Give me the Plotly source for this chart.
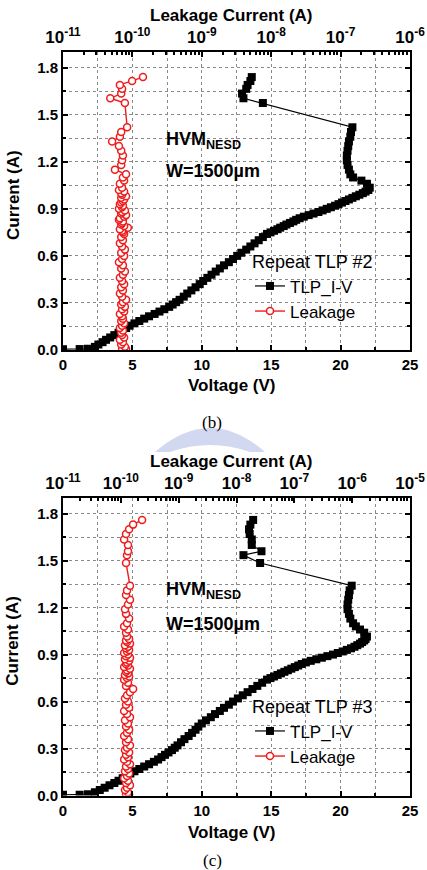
import plotly.graph_objects as go

W, H = 427, 870

# ---------------- (b) Repeat TLP #2 ----------------
current_b = [0.005, 0.006, 0.008, 0.02, 0.035, 0.05, 0.065, 0.08, 0.095, 0.11,
             0.125, 0.14, 0.155, 0.17, 0.185, 0.20, 0.215, 0.23, 0.245, 0.26,
             0.275, 0.29, 0.305, 0.32, 0.34, 0.36, 0.38, 0.40, 0.42, 0.44,
             0.46, 0.48, 0.50, 0.52, 0.54, 0.56, 0.58, 0.60, 0.62, 0.64,
             0.66, 0.68, 0.70, 0.72, 0.74,
             0.75, 0.76, 0.77, 0.78, 0.79, 0.80, 0.81, 0.82, 0.83, 0.84,
             0.85, 0.86, 0.87, 0.88, 0.89, 0.90, 0.91, 0.92, 0.93, 0.94,
             0.95, 0.96, 0.97, 0.98, 0.99, 1.00, 1.01, 1.02, 1.035,
             1.06, 1.08, 1.10, 1.12, 1.15, 1.18, 1.21, 1.24, 1.27, 1.30,
             1.33, 1.36, 1.39, 1.42,
             1.575, 1.605, 1.635, 1.665, 1.69, 1.715, 1.74]
voltage_b = [0.0, 1.2, 1.8, 2.3, 2.55, 2.85, 3.1, 3.4, 3.7, 4.0,
             4.25, 4.55, 4.8, 5.15, 5.5, 5.85, 6.2, 6.6, 6.95, 7.3,
             7.65, 7.9, 8.15, 8.4, 8.7, 8.95, 9.25, 9.55, 9.85, 10.1,
             10.4, 10.7, 11.0, 11.3, 11.6, 11.95, 12.25, 12.55, 12.85, 13.2,
             13.5, 13.8, 14.1, 14.4, 14.7,
             14.95, 15.2, 15.45, 15.65, 15.9, 16.1, 16.35, 16.6, 16.8, 17.05,
             17.35, 17.7, 18.05, 18.4, 18.7, 19.0, 19.3, 19.6, 19.85, 20.1,
             20.35, 20.6, 20.85, 21.1, 21.35, 21.6, 21.8, 22.0, 22.1,
             21.9, 21.5, 20.9, 20.7, 20.6, 20.5, 20.45, 20.45, 20.5, 20.55,
             20.6, 20.7, 20.75, 20.85,
             14.4, 13.0, 12.9, 13.2, 13.3, 13.5, 13.6]
leakage_b = [7.6e-11, 8.1e-11, 7.1e-11, 7.8e-11, 6.9e-11, 7.3e-11, 6.6e-11, 7.6e-11, 7.1e-11, 6.9e-11,
             7.3e-11, 6.6e-11, 7.1e-11, 7.6e-11, 6.9e-11, 7.3e-11, 7.1e-11, 6.6e-11, 7.6e-11, 7.1e-11,
             7.8e-11, 6.9e-11, 7.3e-11, 8.1e-11, 7.1e-11, 6.6e-11, 7.3e-11, 6.9e-11, 7.6e-11, 7.1e-11,
             6.6e-11, 7.3e-11, 7.8e-11, 6.9e-11, 7.3e-11, 6.4e-11, 7.1e-11, 7.6e-11, 6.9e-11, 7.8e-11,
             7.1e-11, 6.6e-11, 7.3e-11, 6.9e-11, 7.6e-11,
             7.3e-11, 7.1e-11, 6.6e-11, 8.6e-11, 7.6e-11, 6.9e-11, 7.1e-11, 7.3e-11, 6.4e-11, 6.6e-11,
             7.6e-11, 8.1e-11, 6.9e-11, 7.1e-11, 7.8e-11, 6.4e-11, 7.1e-11, 7.3e-11, 6.6e-11, 6.9e-11,
             7.3e-11, 7.6e-11, 6.9e-11, 8.1e-11, 7.1e-11, 6.9e-11, 7.6e-11, 6.4e-11, 7.1e-11,
             6.6e-11, 7.6e-11, 7.3e-11, 8.1e-11, 5.6e-11, 6.9e-11, 7.1e-11, 7.3e-11, 6.9e-11, 6.4e-11,
             5.1e-11, 6.6e-11, 6.9e-11, 8.4e-11,
             7.8e-11, 4.8e-11, 6.9e-11, 7.1e-11, 6.6e-11, 9.9e-11, 1.42e-10]

# ---------------- (c) Repeat TLP #3 ----------------
current_c = [0.004, 0.005, 0.008, 0.02, 0.035, 0.05, 0.065, 0.08, 0.095, 0.11,
             0.125, 0.14, 0.155, 0.17, 0.185, 0.20, 0.215, 0.23, 0.245, 0.26,
             0.275, 0.29, 0.305, 0.32, 0.34, 0.36, 0.38, 0.40, 0.42, 0.44,
             0.46, 0.48, 0.50, 0.52, 0.54, 0.56, 0.58, 0.60, 0.62, 0.64,
             0.66, 0.68, 0.70, 0.72, 0.74,
             0.75, 0.76, 0.77, 0.78, 0.79, 0.80, 0.81, 0.82, 0.83, 0.84,
             0.85, 0.86, 0.87, 0.88, 0.89, 0.90, 0.91, 0.92, 0.93, 0.94,
             0.95, 0.96, 0.97, 0.98, 0.99, 1.00, 1.015,
             1.04, 1.06, 1.08, 1.10, 1.13, 1.16, 1.19, 1.22, 1.25, 1.28, 1.31, 1.34,
             1.485, 1.535, 1.56, 1.60, 1.635, 1.67, 1.70, 1.73, 1.76]
voltage_c = [0.0, 1.2, 1.8, 2.3, 2.65, 3.0, 3.35, 3.7, 4.0, 4.3,
             4.55, 4.85, 5.15, 5.5, 5.85, 6.2, 6.55, 6.85, 7.1, 7.35,
             7.6, 7.85, 8.05, 8.25, 8.5, 8.75, 9.05, 9.3, 9.55, 9.75,
             10.0, 10.3, 10.65, 10.95, 11.3, 11.6, 11.95, 12.25, 12.6, 12.95,
             13.3, 13.65, 14.0, 14.35, 14.7,
             14.95, 15.2, 15.45, 15.7, 15.95, 16.2, 16.45, 16.7, 16.95, 17.2,
             17.5, 17.85, 18.25, 18.65, 19.05, 19.45, 19.8, 20.15, 20.45, 20.75,
             21.0, 21.2, 21.4, 21.55, 21.7, 21.8, 21.9,
             21.7, 21.4, 21.1, 20.9, 20.7, 20.6, 20.5, 20.5, 20.55, 20.6, 20.65, 20.8,
             14.2, 13.0, 14.3, 13.6, 13.6, 13.45, 13.4, 13.5, 13.7]
leakage_c = [1.28e-10, 1.39e-10, 1.23e-10, 1.33e-10, 1.18e-10, 1.28e-10, 1.44e-10, 1.23e-10, 1.33e-10, 1.14e-10,
             1.28e-10, 1.39e-10, 1.18e-10, 1.33e-10, 1.23e-10, 1.44e-10, 1.28e-10, 1.14e-10, 1.33e-10, 1.23e-10,
             1.39e-10, 1.18e-10, 1.28e-10, 1.44e-10, 1.23e-10, 1.33e-10, 1.14e-10, 1.28e-10, 1.39e-10, 1.23e-10,
             1.33e-10, 1.18e-10, 1.44e-10, 1.28e-10, 1.14e-10, 1.39e-10, 1.23e-10, 1.33e-10, 1.18e-10, 1.28e-10,
             1.44e-10, 1.63e-10, 1.23e-10, 1.33e-10, 1.14e-10,
             1.28e-10, 1.39e-10, 1.18e-10, 1.33e-10, 1.23e-10, 1.28e-10, 1.44e-10, 1.14e-10, 1.33e-10, 1.23e-10,
             1.28e-10, 1.39e-10, 1.18e-10, 1.44e-10, 1.23e-10, 1.33e-10, 1.14e-10, 1.28e-10, 1.39e-10, 1.23e-10,
             1.33e-10, 1.18e-10, 1.44e-10, 1.28e-10, 1.23e-10, 1.39e-10, 1.28e-10,
             1.23e-10, 1.33e-10, 1.14e-10, 1.28e-10, 1.39e-10, 1.23e-10, 1.18e-10, 1.33e-10, 1.44e-10, 1.23e-10, 1.28e-10, 1.44e-10,
             1.23e-10, 1.28e-10, 1.33e-10, 1.33e-10, 1.14e-10, 1.23e-10, 1.39e-10, 1.63e-10, 2.33e-10]

volt_ticks = [0, 5, 10, 15, 20, 25]
curr_ticks = [0.0, 0.3, 0.6, 0.9, 1.2, 1.5, 1.8]
leak_exp_b = [-11, -10, -9, -8, -7, -6]
leak_exp_c = [-11, -10, -9, -8, -7, -6, -5]

FONT = "Liberation Sans"
RED = "#ee1c1c"
GRID = "#8a8a8a"


def px(x):
    return x / W


def py(y):
    return 1 - y / H


# plot-area geometry in pixels (left, right) and (top, bottom) per panel
PL, PR = 63, 410
PANELS = [(52, 350), (498, 795.5)]

fig = go.Figure()

panels = [
    ("x", "x2", "y", "legend", current_b, voltage_b, leakage_b, leak_exp_b, "Repeat TLP #2"),
    ("x3", "x4", "y2", "legend2", current_c, voltage_c, leakage_c, leak_exp_c, "Repeat TLP #3"),
]

for (xa, xt, ya, lg, cur, vol, leak, exps, ttl) in panels:
    fig.add_trace(go.Scatter(
        x=vol, y=cur, mode="lines+markers", name="TLP_I-V",
        line=dict(color="black", width=1.2),
        marker=dict(symbol="square", size=8, color="black"),
        xaxis=xa, yaxis=ya, legend=lg))
    fig.add_trace(go.Scatter(
        x=leak, y=cur, mode="lines+markers", name="Leakage",
        line=dict(color=RED, width=1.4),
        marker=dict(symbol="circle", size=7, color="white",
                    line=dict(color=RED, width=1.5)),
        xaxis=xt, yaxis=ya, legend=lg))

tickfont = dict(family=FONT, size=15, color="black", weight="bold")

layout = dict(
    width=W, height=H, autosize=False,
    margin=dict(l=0, r=0, t=0, b=0, autoexpand=False),
    paper_bgcolor="white", plot_bgcolor="white",
    showlegend=True,
)

for i, (xa, xt, ya, lg, cur, vol, leak, exps, ttl) in enumerate(panels):
    top, bot = PANELS[i]
    ydom = [py(bot), py(top)]
    xdom = [px(PL), px(PR)]
    xkey = "xaxis" if xa == "x" else "xaxis" + xa[1:]
    xtkey = "xaxis" + xt[1:]
    ykey = "yaxis" if ya == "y" else "yaxis" + ya[1:]
    layout[xkey] = dict(
        domain=xdom, anchor=ya, range=[0, 25], tickvals=volt_ticks,
        ticks="inside", ticklen=5, tickwidth=1.5, tickcolor="black",
        showline=True, linewidth=2, linecolor="black", mirror=True,
        tickfont=tickfont, zeroline=False, automargin=False,
        showgrid=True, gridcolor=GRID, griddash="dot", gridwidth=1,
        minor=dict(dtick=2.5, ticks="inside", ticklen=3, tickcolor="black",
                   showgrid=True, gridcolor=GRID, griddash="dot"),
    )
    lo, hi = exps[0], exps[-1]
    minor_vals = [k * 10.0 ** e for e in range(lo, hi) for k in range(2, 10)]
    layout[xtkey] = dict(
        overlaying=xa, side="top", anchor=ya, type="log", range=[lo, hi],
        tickvals=[10.0 ** e for e in exps],
        ticktext=["10<sup>%d</sup>" % e for e in exps],
        ticks="inside", ticklen=5, tickwidth=1.5, tickcolor="black",
        showline=True, linewidth=2, linecolor="black",
        tickfont=dict(family=FONT, size=17, color="black", weight="bold"),
        showgrid=False, zeroline=False, automargin=False,
        minor=dict(tickvals=minor_vals, ticks="inside", ticklen=3,
                   tickcolor="black", showgrid=False),
    )
    layout[ykey] = dict(
        domain=ydom, anchor=xa, range=[0, 1.9], tickvals=curr_ticks,
        tickformat=".1f", ticks="inside", ticklen=5, tickwidth=1.5,
        tickcolor="black", showline=True, linewidth=2, linecolor="black",
        mirror="ticks", tickfont=tickfont, zeroline=False, automargin=False,
        showgrid=True, gridcolor=GRID, griddash="dot", gridwidth=1,
        minor=dict(dtick=0.15, ticks="inside", ticklen=3, tickcolor="black",
                   showgrid=True, gridcolor=GRID, griddash="dot"),
    )
    leg_top = 245 if i == 0 else 690
    layout[lg] = dict(
        x=px(250), y=py(leg_top), xanchor="left", yanchor="top",
        bgcolor="rgba(0,0,0,0)", borderwidth=0,
        font=dict(family=FONT, size=17, color="black"),
        title=dict(text=ttl, font=dict(family=FONT, size=18, color="black")),
        tracegroupgap=0, itemwidth=30,
    )

fig.update_layout(**layout)

titlefont = dict(family=FONT, size=17, color="black", weight="bold")
bigfont = dict(family=FONT, size=18, color="black", weight="bold")
ann = []


def text(t, x, y, font, **kw):
    d = dict(text=t, x=px(x), y=py(y), xref="paper", yref="paper",
             showarrow=False, font=font, xanchor=kw.pop("xanchor", "center"),
             yanchor="middle")
    d.update(kw)
    ann.append(d)


hvm_y = [(140, 171), (590, 624)]
for i, (top, bot) in enumerate(PANELS):
    off = 0 if i == 0 else 446
    text("Leakage Current (A)", 231, 15 + off, titlefont)
    text("Voltage (V)", 232, 386 + off, titlefont)
    text("Current (A)", 13, (top + bot) / 2 - 6, titlefont, textangle=-90)
    text("HVM<sub>NESD</sub>", 164, hvm_y[i][0], bigfont, xanchor="left")
    text("W=1500\u00b5m", 164, hvm_y[i][1], bigfont, xanchor="left")

serif = dict(family="Liberation Serif", size=17, color="black")
text("(b)", 212, 422, serif)
text("(c)", 212, 860, serif)
fig.update_layout(annotations=ann)

# faint watermark band under "(b)"
wm = "M %f,%f Q %f,%f %f,%f L %f,%f Q %f,%f %f,%f Z" % (
    px(155), py(452), px(210), py(404), px(265), py(452),
    px(250), py(452), px(210), py(438), px(170), py(452))
fig.add_shape(type="path", path=wm, xref="paper", yref="paper",
              fillcolor="#9aa8dc", opacity=0.45, line=dict(width=0), layer="below")

fig.write_html("out.html")
